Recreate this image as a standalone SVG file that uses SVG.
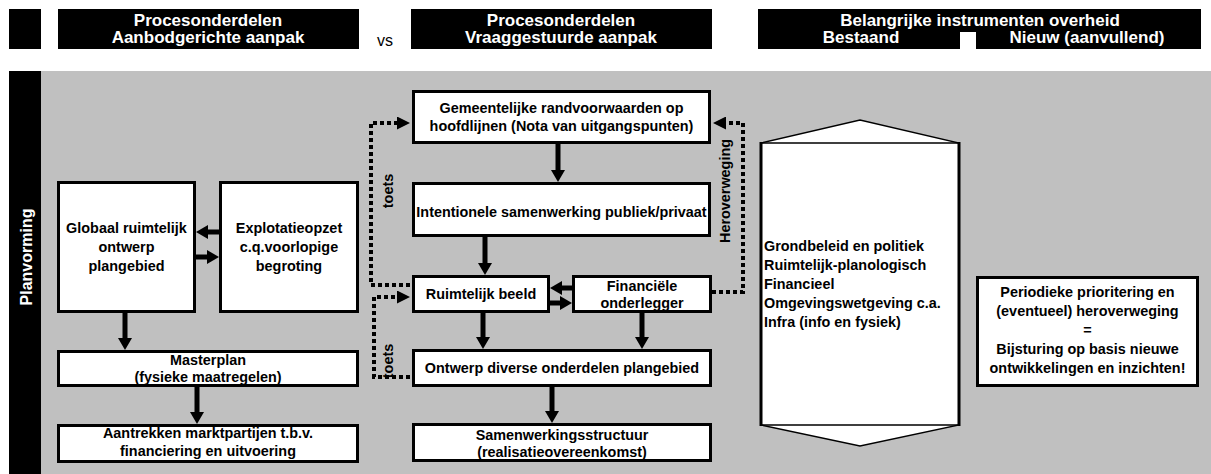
<svg xmlns="http://www.w3.org/2000/svg" width="1211" height="474" viewBox="0 0 1211 474">
<style>
.hdr{font-family:"Liberation Sans",Arial,sans-serif;font-weight:bold;font-size:17px;fill:#fff;text-anchor:middle}
.bx{fill:#fff;stroke:#000;stroke-width:3}
.t{font-family:"Liberation Sans",Arial,sans-serif;font-weight:bold;font-size:14.4px;fill:#000;text-anchor:middle}
.tl{font-family:"Liberation Sans",Arial,sans-serif;font-weight:bold;font-size:14.4px;fill:#000}
.ar{stroke:#000;stroke-width:5;fill:none;marker-end:url(#ah)}
.dt{stroke:#000;stroke-width:4;stroke-dasharray:4 3;fill:none;marker-end:url(#dh)}
</style>
<defs>
<marker id="ah" markerUnits="userSpaceOnUse" markerWidth="12" markerHeight="14" viewBox="0 0 12 14" refX="5" refY="7" orient="auto"><path d="M0,0 L12,7 L0,14 z" fill="#000"/></marker>
<marker id="dh" markerUnits="userSpaceOnUse" markerWidth="13" markerHeight="13" viewBox="0 0 13 13" refX="0" refY="6.5" orient="auto"><path d="M0,0 L13,6.5 L0,13 z" fill="#000"/></marker>
</defs>
<rect width="1211" height="474" fill="#fff"/>
<g id="headers">
<rect x="9" y="9" width="32" height="40" fill="#000"/>
<rect x="58" y="9" width="301" height="40" fill="#000"/>
<text class="hdr" x="208" y="26">Procesonderdelen</text>
<text class="hdr" x="208" y="43">Aanbodgerichte aanpak</text>
<text x="385" y="46" font-family="Liberation Sans, Arial, sans-serif" font-size="16" text-anchor="middle">vs</text>
<rect x="411" y="9" width="301" height="40" fill="#000"/>
<text class="hdr" x="561" y="26">Procesonderdelen</text>
<text class="hdr" x="561" y="43">Vraaggestuurde aanpak</text>
<rect x="758" y="9" width="443" height="40" fill="#000"/>
<rect x="960" y="32" width="16" height="17" fill="#fff"/>
<text class="hdr" x="980" y="26">Belangrijke instrumenten overheid</text>
<text class="hdr" x="861" y="43">Bestaand</text>
<text class="hdr" x="1087" y="43">Nieuw (aanvullend)</text>
</g>
<g id="background">
<rect x="41" y="71" width="1170" height="403" fill="#c0c0c0"/>
<rect x="9" y="71" width="32" height="403" fill="#000"/>
<text transform="translate(31.5,257) rotate(-90)" class="hdr" style="font-size:16px">Planvorming</text>
</g>
<g id="globaal"><rect class="bx" x="58.5" y="182.5" width="136" height="129"/>
<text class="t" x="126.5" y="233">Globaal ruimtelijk</text><text class="t" x="126.5" y="252">ontwerp</text><text class="t" x="126.5" y="271">plangebied</text></g>
<g id="explotatie"><rect class="bx" x="220.5" y="182.5" width="137" height="129"/>
<text class="t" x="289" y="233">Explotatieopzet</text><text class="t" x="289" y="252">c.q.voorlopige</text><text class="t" x="289" y="271">begroting</text></g>
<g id="masterplan"><rect class="bx" x="58.5" y="351.5" width="299" height="34"/>
<text class="t" x="208" y="365">Masterplan</text><text class="t" x="208" y="382">(fysieke maatregelen)</text></g>
<g id="aantrekken"><rect class="bx" x="58.5" y="425.5" width="299" height="36"/>
<text class="t" x="208" y="438">Aantrekken marktpartijen t.b.v.</text><text class="t" x="208" y="456">financiering en uitvoering</text></g>
<g id="gemeentelijke"><rect class="bx" x="413.5" y="91.5" width="296" height="51"/>
<text class="t" x="561.5" y="113">Gemeentelijke randvoorwaarden op</text><text class="t" x="561.5" y="131">hoofdlijnen (Nota van uitgangspunten)</text></g>
<g id="intentionele"><rect class="bx" x="413.5" y="183.5" width="296" height="52"/>
<text class="t" x="561.5" y="217">Intentionele samenwerking publiek/privaat</text></g>
<g id="ruimtelijk"><rect class="bx" x="413.5" y="276.5" width="135" height="35"/>
<text class="t" x="481" y="299">Ruimtelijk beeld</text></g>
<g id="financiele"><rect class="bx" x="573.5" y="276.5" width="137" height="35"/>
<text class="t" x="642" y="291">Financiële</text><text class="t" x="642" y="308">onderlegger</text></g>
<g id="ontwerp"><rect class="bx" x="413.5" y="350.5" width="297" height="35"/>
<text class="t" x="562" y="373">Ontwerp diverse onderdelen plangebied</text></g>
<g id="samenwerking"><rect class="bx" x="413.5" y="424.5" width="297" height="36"/>
<text class="t" x="562" y="440">Samenwerkingsstructuur</text><text class="t" x="562" y="457">(realisatieovereenkomst)</text></g>
<g id="instrumenten">
<path d="M761,143 L860,120 L959,143 L959,425 L860,446 L761,425 Z" fill="#fff" stroke="#000" stroke-width="1.3"/>
<path d="M761,143 H959 M761,425 H959" stroke="#000" stroke-width="1.5"/>
<path d="M761,142 V426 M959,142 V426" stroke="#000" stroke-width="3"/>
<text class="tl" x="764" y="251">Grondbeleid en politiek</text>
<text class="tl" x="764" y="270">Ruimtelijk-planologisch</text>
<text class="tl" x="764" y="289">Financieel</text>
<text class="tl" x="764" y="308">Omgevingswetgeving c.a.</text>
<text class="tl" x="764" y="327">Infra (info en fysiek)</text>
</g>
<g id="periodiek"><rect class="bx" x="977.5" y="277.5" width="220" height="108"/>
<text class="t" x="1087.5" y="297">Periodieke prioritering en</text>
<text class="t" x="1087.5" y="316">(eventueel) heroverweging</text>
<text class="t" x="1087.5" y="335">=</text>
<text class="t" x="1087.5" y="354">Bijsturing op basis nieuwe</text>
<text class="t" x="1087.5" y="373">ontwikkelingen en inzichten!</text></g>
<g id="connectors">
<path class="ar" d="M219,232 H203"/>
<path class="ar" d="M196,257 H212"/>
<path class="ar" d="M125,313 V343"/>
<path class="ar" d="M197,387 V417"/>
<path class="ar" d="M558,144 V175"/>
<path class="ar" d="M485,237 V268"/>
<path class="ar" d="M572,288 H557"/>
<path class="ar" d="M550,303 H565"/>
<path class="ar" d="M483,313 V342"/>
<path class="ar" d="M642,313 V342"/>
<path class="ar" d="M552,387 V416"/>
<path class="dt" d="M410,285 H371 V123 H397"/>
<path class="dt" d="M410,377 H374 V297 H397"/>
<path class="dt" d="M712,292 H743 V123 H726"/>
<text class="tl" transform="translate(393,191) rotate(-90)" text-anchor="middle">toets</text>
<text class="tl" transform="translate(393,361) rotate(-90)" text-anchor="middle">toets</text>
<text class="tl" transform="translate(730,191) rotate(-90)" text-anchor="middle">Heroverweging</text>
</g>
</svg>
